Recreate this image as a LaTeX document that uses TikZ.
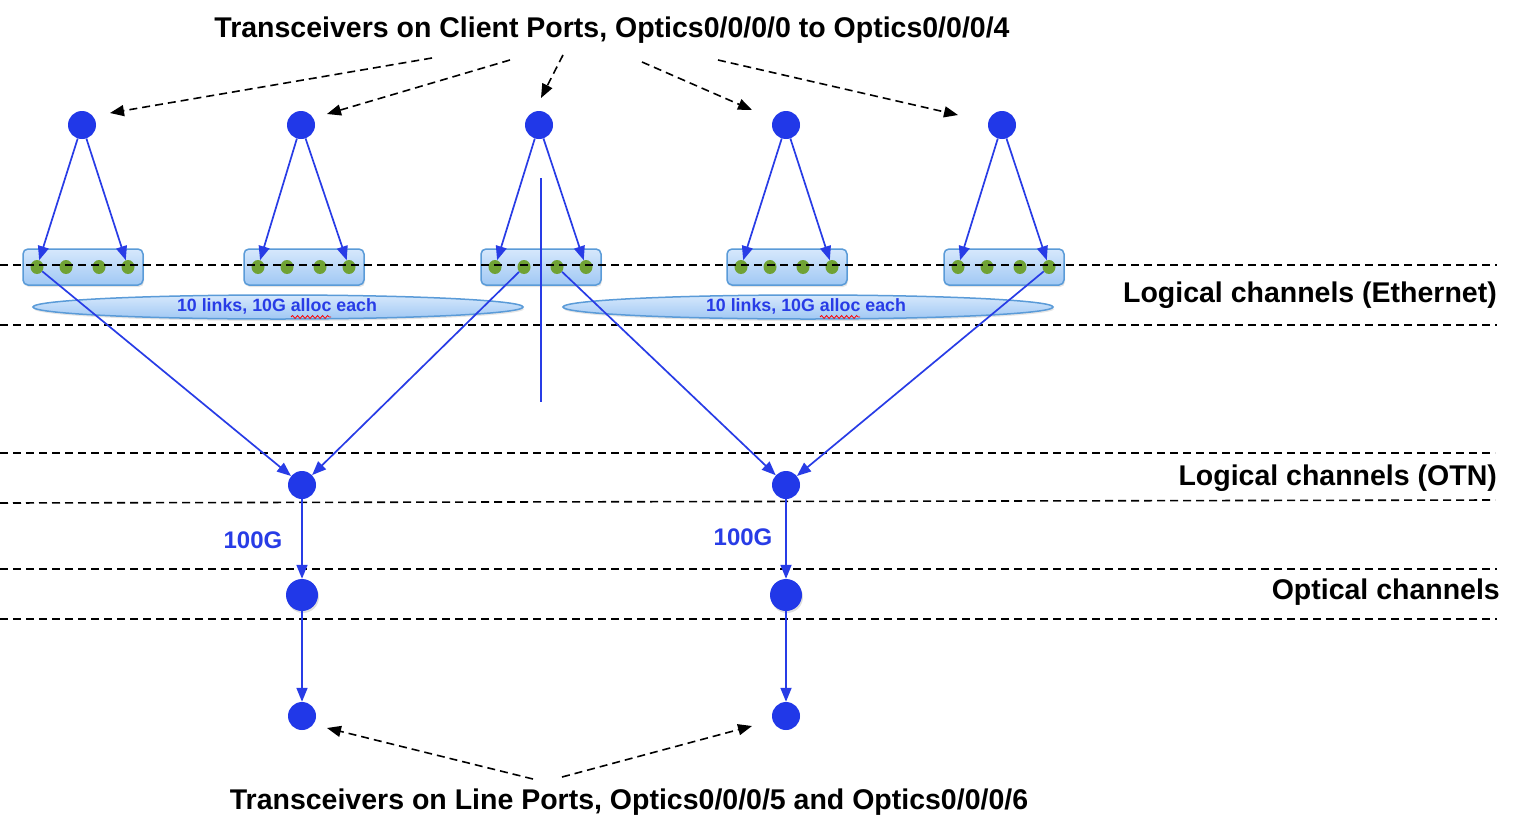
\documentclass[tikz,border=0pt]{standalone}
\usepackage{fontspec}
\setmainfont{Liberation Sans}
\usetikzlibrary{arrows.meta,shapes.geometric,shadows,decorations.pathmorphing}
\definecolor{dotblue}{RGB}{33,56,232}
\definecolor{arrblue}{RGB}{40,60,230}
\definecolor{portgreen}{RGB}{112,162,52}
\definecolor{boxborder}{RGB}{90,155,216}
\definecolor{boxtop}{RGB}{214,232,252}
\definecolor{boxbot}{RGB}{160,200,244}
\tikzset{
  bigdot/.style={circle,fill=dotblue,draw=none,minimum size=28pt,inner sep=0pt},
  optdot/.style={circle,fill=dotblue,draw=none,minimum size=32pt,inner sep=0pt,
     drop shadow={opacity=0.25,shadow xshift=1pt,shadow yshift=-2pt}},
  portdot/.style={ellipse,fill=portgreen,draw=none,minimum width=13pt,minimum height=14pt,inner sep=0pt},
  portbox/.style={rectangle,rounded corners=5pt,draw=boxborder,line width=1.5pt,
     top color=boxtop,bottom color=boxbot,minimum width=120pt,minimum height=36pt,
     drop shadow={opacity=0.2,shadow xshift=1pt,shadow yshift=-2pt}},
  linkell/.style={ellipse,draw=boxborder,line width=1.5pt,top color=boxtop,bottom color=boxbot,
     minimum width=490pt,minimum height=24pt,inner sep=0pt,
     drop shadow={opacity=0.2,shadow xshift=1pt,shadow yshift=-2pt}},
  bluearr/.style={draw=arrblue,line width=1.7pt,-{Triangle[length=14pt,width=11pt]}},
  blackarr/.style={draw=black,line width=1.6pt,dash pattern=on 8pt off 5pt,-{Triangle[length=14pt,width=11pt]}},
  hdash/.style={draw=black,line width=1.6pt,dash pattern=on 8pt off 5pt},
  lbl/.style={font=\bfseries\fontsize{28.5}{32}\selectfont,inner sep=0pt},
  bluelbl/.style={font=\bfseries\fontsize{24}{28}\selectfont,text=arrblue,inner sep=0pt},
  elltxt/.style={font=\bfseries\fontsize{17.8}{20}\selectfont,text=arrblue,inner sep=0pt}
}
\begin{document}
\begin{tikzpicture}[x=1pt,y=-1pt]
\useasboundingbox[fill=white] (0,0) rectangle (1522,830);
% horizontal dashed lines
\draw[hdash] (0,325) -- (1497,325);
\draw[hdash] (0,453) -- (1495,453);
\draw[hdash] (0,503) -- (1495,500);
\draw[hdash] (0,569) -- (1497,569);
\draw[hdash] (0,619) -- (1497,619);
% right labels
\node[lbl,anchor=east] (leth) at (1497,295) {Logical channels (Ethernet)};
\node[lbl,anchor=east] (lotn) at (1497,478) {Logical channels (OTN)};
\node[lbl,anchor=east] (lopt) at (1500,592) {Optical channels};
% titles
\node[lbl] (ttop) at (612,30) {Transceivers on Client Ports, Optics0/0/0/0 to Optics0/0/0/4};
\node[lbl] (tbot) at (629,802) {Transceivers on Line Ports, Optics0/0/0/5 and Optics0/0/0/6};
% ellipses
\node[linkell] (e1) at (278,307) {};
\node[elltxt] (e1t) at (277,306) {10 links, 10G alloc each};
\node[linkell] (e2) at (808,307) {};
\node[elltxt] (e2t) at (806,306) {10 links, 10G alloc each};
% boxes and ports
\foreach \i/\x in {1/83,2/304,3/541,4/787,5/1004}{
  \node[portbox] (b\i) at (\x,267) {};
  \node[portdot] (g\i a) at (\x-46,267) {};
  \node[portdot] (g\i b) at (\x-17,267) {};
  \node[portdot] (g\i c) at (\x+16,267) {};
  \node[portdot] (g\i d) at (\x+45,267) {};
}
% dashed line over boxes
\draw[hdash] (0,265) -- (1497,265);
% top transceivers
\foreach \i/\x in {1/82,2/301,3/539,4/786,5/1002}{
  \node[bigdot] (t\i) at (\x,125) {};
  \draw[bluearr] (t\i) -- (g\i a);
  \draw[bluearr] (t\i) -- (g\i d);
}
% OTN, optical, line nodes
\node[bigdot] (o1) at (302,485) {};
\node[bigdot] (o2) at (786,485) {};
\node[optdot] (p1) at (302,595) {};
\node[optdot] (p2) at (786,595) {};
\node[bigdot] (l1) at (302,716) {};
\node[bigdot] (l2) at (786,716) {};
\draw[bluearr] (g1a) -- (o1);
\draw[bluearr] (g3b) -- (o1);
\draw[bluearr] (g3c) -- (o2);
\draw[bluearr] (g5d) -- (o2);
\draw[bluearr] (o1) -- (p1);
\draw[bluearr] (o2) -- (p2);
\draw[bluearr] (p1) -- (l1);
\draw[bluearr] (p2) -- (l2);
\node[bluelbl] (c1) at (253,540) {100G};
\node[bluelbl] (c2) at (743,537) {100G};
% vertical line
\coordinate (v1) at (541,178);
\coordinate (v2) at (541,402);
\draw[arrblue,line width=1.7pt] (v1) -- (v2);
% spell-check squiggles
\coordinate (s1a) at (291,317); \coordinate (s1b) at (331,317);
\coordinate (s2a) at (820,317); \coordinate (s2b) at (860,317);
\draw[red,line width=0.8pt,decorate,decoration={snake,amplitude=1.5pt,segment length=5pt}] (s1a) -- (s1b);
\draw[red,line width=0.8pt,decorate,decoration={snake,amplitude=1.5pt,segment length=5pt}] (s2a) -- (s2b);
% dashed black arrows from top title
\coordinate (a1s) at (432,58); \coordinate (a1e) at (110,113);
\coordinate (a2s) at (510,60); \coordinate (a2e) at (327,114);
\coordinate (a3s) at (563,55); \coordinate (a3e) at (541,98);
\coordinate (a4s) at (642,62); \coordinate (a4e) at (752,110);
\coordinate (a5s) at (718,60); \coordinate (a5e) at (958,115);
\foreach \k in {1,...,5}{\draw[blackarr] (a\k s) -- (a\k e);}
% bottom
\coordinate (b1s) at (533,779); \coordinate (b1e) at (327,728);
\coordinate (b2s) at (562,777); \coordinate (b2e) at (752,726);
\draw[blackarr] (b1s) -- (b1e);
\draw[blackarr] (b2s) -- (b2e);
\end{tikzpicture}
\end{document}
